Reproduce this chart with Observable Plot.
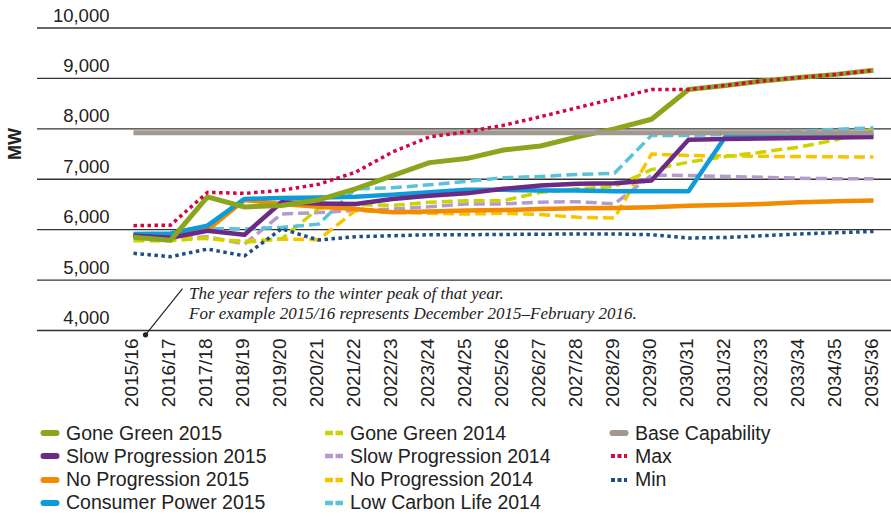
<!DOCTYPE html>
<html><head><meta charset="utf-8">
<script src="https://cdn.jsdelivr.net/npm/d3@7"></script>
<script src="https://cdn.jsdelivr.net/npm/@observablehq/plot@0.6"></script>
<style>
body{margin:0;background:#fff;}
#wrap{position:relative;width:891px;height:517px;overflow:hidden;font-family:"Liberation Sans",Arial,sans-serif;}
.lg{position:absolute;top:421.7px;font-size:19.5px;color:#222;white-space:nowrap;}
.lg div{display:flex;align-items:center;height:23.2px;}
.lg svg{margin-right:6px;flex:none;}
</style></head><body><div id="wrap"></div>
<script>
const years = ["2015/16","2016/17","2017/18","2018/19","2019/20","2020/21","2021/22","2022/23","2023/24","2024/25","2025/26","2026/27","2027/28","2028/29","2029/30","2030/31","2031/32","2032/33","2033/34","2034/35","2035/36"];
const yTicks = [4000,5000,6000,7000,8000,9000,10000];

const goneGreen2015 = [5850,5790,6650,6450,6480,6590,6810,7070,7330,7410,7580,7660,7840,8000,8190,8780,8860,8950,9020,9080,9160];
const slowProgression2015 = [5880,5840,5980,5900,6545,6520,6510,6610,6675,6720,6810,6875,6910,6920,6975,7785,7800,7810,7820,7830,7840];
const noProgression2015 = [5895,5860,5995,6590,6510,6455,6410,6345,6360,6380,6390,6410,6425,6430,6445,6475,6490,6510,6545,6565,6580];
const consumerPower2015 = [5915,5925,6080,6610,6630,6640,6655,6695,6740,6790,6790,6775,6775,6760,6760,6760,7850,7860,7870,7880,7890];
const goneGreen2014 = [5780,5780,5835,5750,5815,6420,6500,6480,6545,6575,6575,6740,6810,6855,7190,7340,7450,7540,7640,7785,8000];
const slowProgression2014 = [5850,5830,5860,5715,6310,6340,6380,6410,6455,6510,6510,6545,6555,6510,7080,7075,7055,7040,7020,7010,7010];
const noProgression2014 = [5860,5850,5820,5770,5815,5800,6380,6345,6325,6310,6325,6300,6245,6230,7500,7470,7465,7455,7450,7445,7440];
const lowCarbonLife2014 = [5900,5920,6020,6015,6045,6110,6810,6830,6890,6955,7030,7055,7095,7120,7870,7870,7890,7910,7950,7990,8020];
const baseCapability = [7920,7920,7920,7920,7920,7920,7920,7920,7920,7920,7920,7920,7920,7920,7920,7920,7920,7920,7920,7920,7920];
const maxSeries = [6080,6090,6740,6720,6780,6900,7140,7540,7840,7940,8070,8240,8420,8600,8780,8780,8860,8950,9020,9080,9160];
const minSeries = [5530,5465,5615,5480,6015,5795,5860,5880,5900,5900,5905,5910,5915,5915,5900,5835,5845,5880,5915,5940,5965];

const annotationLines = ["The year refers to the winter peak of that year.","For example 2015/16 represents December 2015\u2013February 2016."];

const SOLID = null, DASH = "11,5", DOT = "3.5,3.5";
// draw order
const series = [
  {name:"Slow Progression 2014", values:slowProgression2014, color:"#b39bcb", dash:DASH, w:3.5},
  {name:"No Progression 2014", values:noProgression2014, color:"#f8c400", dash:DASH, w:3.5},
  {name:"Gone Green 2014", values:goneGreen2014, color:"#cad400", dash:DASH, w:3.5},
  {name:"Low Carbon Life 2014", values:lowCarbonLife2014, color:"#5ac3d8", dash:DASH, w:3.5},
  {name:"No Progression 2015", values:noProgression2015, color:"#f28b00", dash:SOLID, w:4.5},
  {name:"Consumer Power 2015", values:consumerPower2015, color:"#0d9bd9", dash:SOLID, w:4.5},
  {name:"Slow Progression 2015", values:slowProgression2015, color:"#6a2a86", dash:SOLID, w:4.5},
  {name:"Gone Green 2015", values:goneGreen2015, color:"#8ba51c", dash:SOLID, w:5},
  {name:"Base Capability", values:baseCapability, color:"#a39890", dash:SOLID, w:5},
  {name:"Max", values:maxSeries, color:"#d4063f", dash:DOT, w:3.5},
  {name:"Min", values:minSeries, color:"#1b4f86", dash:DOT, w:3.5}
];
const legendColumns = [
  ["Gone Green 2015","Slow Progression 2015","No Progression 2015","Consumer Power 2015"],
  ["Gone Green 2014","Slow Progression 2014","No Progression 2014","Low Carbon Life 2014"],
  ["Base Capability","Max","Min"]
];

const lineMarks = series.map(s => Plot.line(
  s.values.map((v,i) => ({year: years[i], value: v})),
  {x:"year", y:"value", stroke:s.color, strokeWidth:s.w, strokeDasharray:s.dash || undefined,
   strokeLinejoin:"round", strokeLinecap:"butt"}
));

const fmt = d3.format(",");
const chart = Plot.plot({
  width: 891, height: 420,
  marginLeft: 37, marginRight: 0, marginTop: 0, marginBottom: 0,
  style: {fontFamily: "'Liberation Sans', Arial, sans-serif", background: "#fff", color: "#222", overflow: "visible"},
  x: {type: "point", domain: years, range: [127, 878], padding: 0, axis: null},
  y: {domain: [4000, 10000], range: [330, 27.5], axis: null},
  marks: [
    Plot.ruleY(yTicks, {stroke: "#333", strokeWidth: 1.3}),
    Plot.text(yTicks, {y: d => d, text: d => fmt(d), frameAnchor: "left", dx: 72, dy: -6.5,
      textAnchor: "end", lineAnchor: "bottom", fontSize: 18.5, fill: "#222", letterSpacing: "1.1px"}),
    Plot.text(years, {x: d => d, y: 4000, text: d => d, rotate: -90, textAnchor: "end", dy: 8, dx: -1.5,
      fontSize: 19, fill: "#222", letterSpacing: "0.5px"}),
    Plot.text(["MW"], {y: 7380, text: d => d, frameAnchor: "left", dx: -22, rotate: -90,
      fontSize: 18, fontWeight: "bold", fill: "#222"}),
    ...lineMarks,
    Plot.link([{a: years[0], b: years[1]}], {x1: "a", x2: "b", y1: 3915, y2: 4833, dx: 12,
      stroke: "#222", strokeWidth: 1.2}),
    Plot.dot([years[0]], {x: d => d, y: 3915, dx: 12, r: 2.6, fill: "#222"}),
    Plot.text([annotationLines.join("\n")], {x: () => years[1], y: 4228, text: d => d, dx: 18.5,
      textAnchor: "start", lineAnchor: "bottom", lineHeight: 1.18, fontSize: 17, fontStyle: "italic",
      fontFamily: "'Liberation Serif', 'Times New Roman', serif", fill: "#222"})
  ]
});
const wrap = document.getElementById("wrap");
wrap.appendChild(chart);

function swatch(s){
  const ns = "http://www.w3.org/2000/svg";
  const svg = document.createElementNS(ns, "svg");
  svg.setAttribute("width", 20); svg.setAttribute("height", 8);
  const l = document.createElementNS(ns, "line");
  l.setAttribute("y1", 4); l.setAttribute("y2", 4);
  l.setAttribute("stroke", s.color);
  if (s.dash === DASH) {
    l.setAttribute("x1", 1); l.setAttribute("x2", 19);
    l.setAttribute("stroke-width", 4.5); l.setAttribute("stroke-dasharray", "8,2.5");
  } else if (s.dash === DOT) {
    l.setAttribute("x1", 2); l.setAttribute("x2", 18);
    l.setAttribute("stroke-width", 4); l.setAttribute("stroke-dasharray", "4,2.5");
  } else {
    l.setAttribute("x1", 3.5); l.setAttribute("x2", 16.5);
    l.setAttribute("stroke-width", 6); l.setAttribute("stroke-linecap", "round");
  }
  svg.appendChild(l);
  return svg;
}
const colLeft = [40, 324, 609];
legendColumns.forEach((col, ci) => {
  const div = document.createElement("div");
  div.className = "lg";
  div.style.left = colLeft[ci] + "px";
  col.forEach(name => {
    const s = series.find(t => t.name === name);
    const row = document.createElement("div");
    row.appendChild(swatch(s));
    const span = document.createElement("span");
    span.textContent = name;
    row.appendChild(span);
    div.appendChild(row);
  });
  wrap.appendChild(div);
});
</script>
</body></html>
